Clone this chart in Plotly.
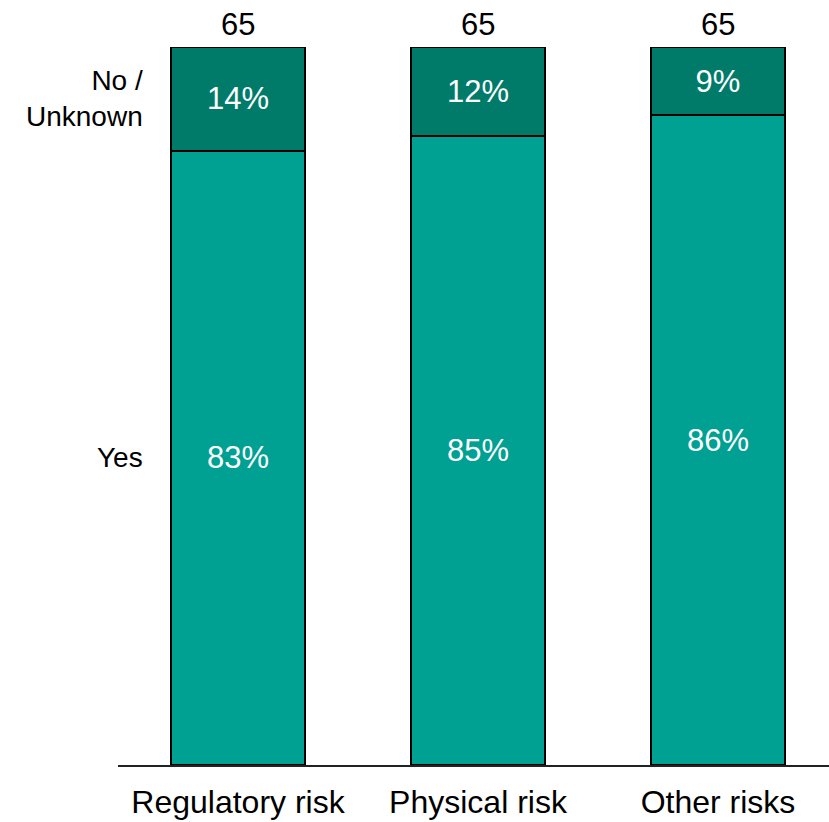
import plotly.graph_objects as go

categories = ["Regulatory risk", "Physical risk", "Other risks"]
yes_pct = [83, 85, 86]
no_unknown_pct = [14, 12, 9]
respondents = [65, 65, 65]

YES_COLOR = "#00A092"
NO_COLOR = "#007B6A"
FONT = "Liberation Sans, Arial, sans-serif"

fig = go.Figure()
fig.add_trace(go.Bar(
    x=categories, y=yes_pct, name="Yes",
    marker=dict(color=YES_COLOR, line=dict(color="black", width=2)),
    text=[f"{v}%" for v in yes_pct], textposition="inside",
    insidetextanchor="middle",
    textfont=dict(color="white", size=31, family=FONT),
    width=0.558,
))
fig.add_trace(go.Bar(
    x=categories, y=no_unknown_pct, name="No / Unknown",
    marker=dict(color=NO_COLOR, line=dict(color="black", width=2)),
    text=[f"{v}%" for v in no_unknown_pct], textposition="inside",
    insidetextanchor="middle",
    textfont=dict(color="white", size=31, family=FONT),
    width=0.558,
))

# respondent counts above each bar
for cat, n in zip(categories, respondents):
    fig.add_annotation(x=cat, y=100, xref="x", yref="y", text=str(n),
                       showarrow=False, yanchor="bottom", yshift=3,
                       font=dict(size=31, color="black", family=FONT))

# segment names beside the first bar
tot0 = yes_pct[0] + no_unknown_pct[0]
yes_mid = yes_pct[0] / tot0 * 100 / 2
no_mid = (yes_pct[0] + no_unknown_pct[0] / 2) / tot0 * 100
fig.add_annotation(x=0.038, y=yes_mid, xref="paper", yref="y", text="Yes",
                   showarrow=False, xanchor="right", align="right",
                   font=dict(size=28, color="black", family=FONT))
fig.add_annotation(x=0.038, y=no_mid, xref="paper", yref="y", text="No /<br>Unknown",
                   showarrow=False, xanchor="right", align="right",
                   font=dict(size=28, color="black", family=FONT))

fig.update_layout(
    width=829, height=822,
    barmode="stack", barnorm="percent",
    showlegend=False,
    plot_bgcolor="white", paper_bgcolor="white",
    margin=dict(l=118, r=0, t=47, b=57),
    uniformtext=dict(mode=False),
)
fig.update_xaxes(
    range=[-0.5, 2.4625], showline=True, linecolor="#222", linewidth=2,
    showgrid=False, zeroline=False, ticks="", automargin=False,
    tickfont=dict(size=32, color="black", family=FONT),
    ticklabelstandoff=8,
)
fig.update_yaxes(range=[0, 100], visible=False, showgrid=False, automargin=False)

fig.write_html("out.html")
